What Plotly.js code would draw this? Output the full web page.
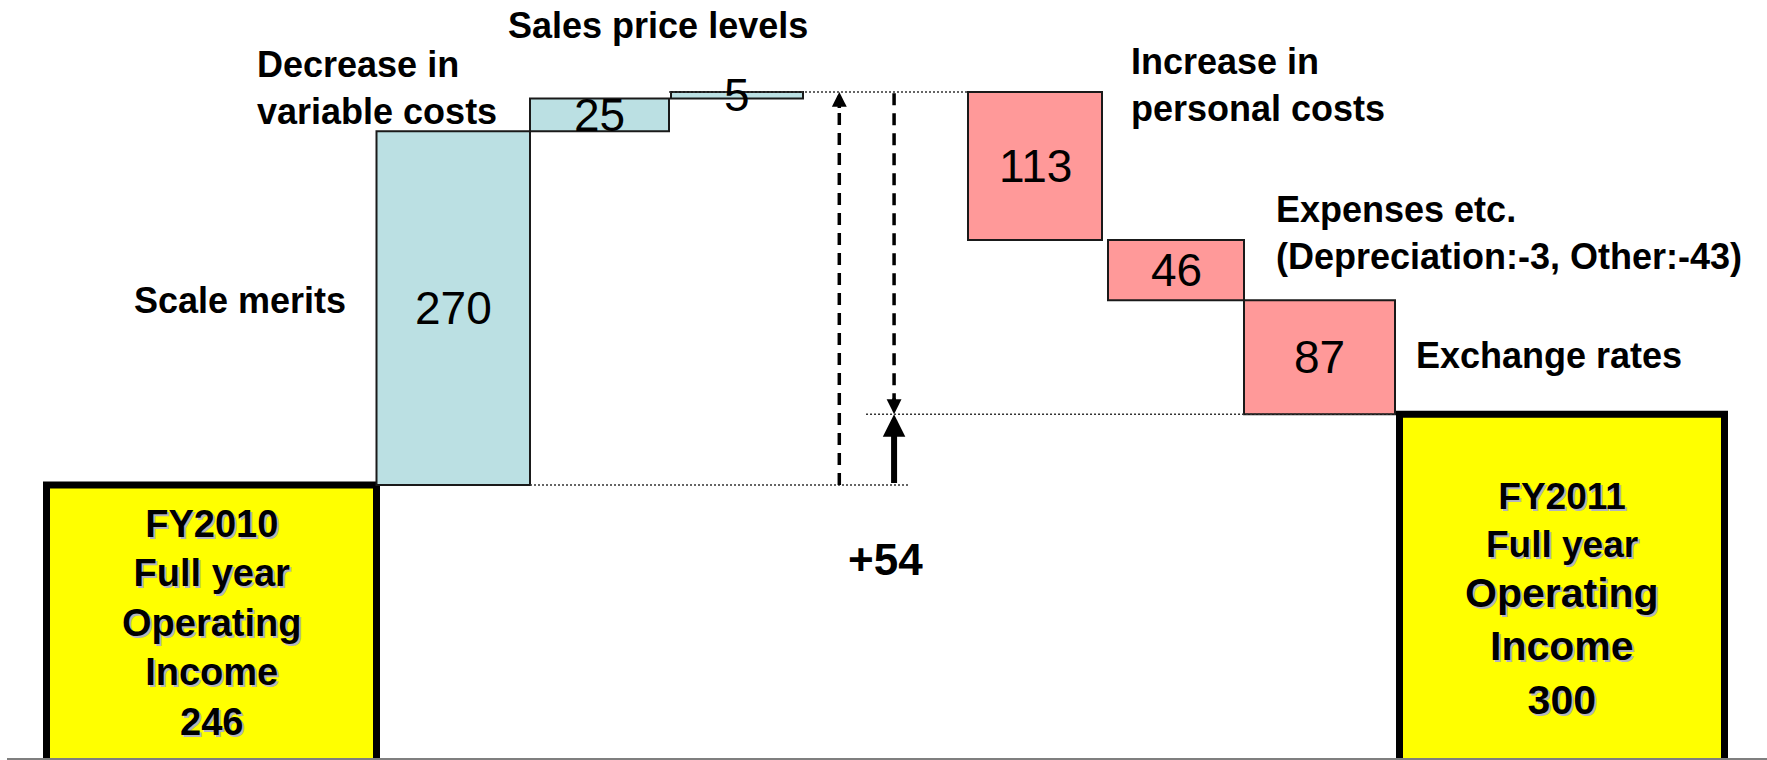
<!DOCTYPE html>
<html>
<head>
<meta charset="utf-8">
<script src="https://cdn.plot.ly/plotly-3.0.1.min.js"></script>
<style>
  html, body { margin: 0; padding: 0; background: #ffffff; }
  #chart { width: 1767px; height: 760px; }
</style>
</head>
<body>
<div id="chart"></div>
<script>
// Operating income bridge: FY2010 full year -> FY2011 full year
const periods = ['FY2010', 'FY2011'];
const startIncome = 246;
const endIncome = 300;
const factorLabels = [
  'Scale merits',
  'Decrease in<br>variable costs',
  'Sales price levels',
  'Increase in<br>personal costs',
  'Expenses etc.',
  'Exchange rates'
];
const factorValues = [270, 25, 5, -113, -46, -87];
const expenseParts = ['Depreciation', 'Other'];
const expensePartValues = [-3, -43];

// ---- layout constants (x-axis units, 1 unit = 100 px) ----
const BAR_W = [3.30, 1.535, 1.39, 1.32, 1.34, 1.36, 1.51, 3.25];
const GAP_BEFORE = [0, 0, 0, 0.02, 1.65, 0.06, 0, 0.045];
const FONT = 'Liberation Sans, Arial, sans-serif';
const BLUE = '#bbe0e3';
const PINK = '#ff9999';
const YELLOW = '#ffff00';

// ---- series assembled from the data ----
const yVals = [startIncome].concat(factorValues, [endIncome]);
const measures = ['absolute'].concat(factorValues.map(() => 'relative'), ['total']);

// bar positions from widths and gaps
const leftEdge = [], rightEdge = [], centers = [];
let cursor = 0;
BAR_W.forEach((w, i) => {
  cursor += GAP_BEFORE[i];
  leftEdge.push(cursor);
  centers.push(cursor + w / 2);
  cursor += w;
  rightEdge.push(cursor);
});

// running totals give each bar's low/high ends
const lo = [], hi = [];
let run = 0;
yVals.forEach((v, i) => {
  if (measures[i] === 'absolute') { run = v; lo.push(0); hi.push(v); }
  else if (measures[i] === 'total') { lo.push(0); hi.push(run); }
  else { lo.push(Math.min(run, run + v)); hi.push(Math.max(run, run + v)); run += v; }
});
const mid = lo.map((l, i) => (l + hi[i]) / 2);
const peak = Math.max.apply(null, hi.slice(1, -1));
const finalTotal = hi[hi.length - 1];

const gapL = rightEdge[3], gapW = leftEdge[4] - rightEdge[3];
const gx = f => gapL + f * gapW;
const upX = gx(0.22), downX = gx(0.552);

const trace = {
  type: 'waterfall',
  x: centers,
  y: yVals,
  measure: measures,
  width: BAR_W,
  increasing: { marker: { color: BLUE, line: { color: '#1a1a1a', width: 2 } } },
  decreasing: { marker: { color: PINK, line: { color: '#1a1a1a', width: 2 } } },
  totals: { marker: { color: YELLOW, line: { color: '#000000', width: 7 } } },
  connector: { visible: false },
  textposition: 'none',
  hoverinfo: 'skip',
  showlegend: false
};

const ann = [];
const labelFont = { family: FONT, size: 36, color: '#000000' };

// values inside the change bars
factorValues.forEach((v, k) => {
  const i = k + 1;
  ann.push({ x: centers[i], y: mid[i], xref: 'x', yref: 'y', text: String(Math.abs(v)),
    showarrow: false, xanchor: 'center', yanchor: 'middle',
    font: { family: FONT, size: 46, color: '#000000' } });
});

// category captions
const expenseText = factorLabels[4] + '<br>(' +
  expenseParts.map((p, j) => p + ':' + expensePartValues[j]).join(', ') + ')';
const cap = (text, x, y, xanchor, xshift, yshift) => ann.push({
  x, y, xref: 'x', yref: 'y', text: '<b>' + text + '</b>', showarrow: false,
  xanchor, yanchor: 'middle', align: 'left', xshift, yshift, font: labelFont });
cap(factorLabels[0], leftEdge[1], mid[1], 'right', -29, 8);
cap(factorLabels[1], leftEdge[2], mid[2], 'right', -31, 27);
cap(factorLabels[2], rightEdge[3], hi[3], 'right', 7, 66);
cap(factorLabels[3], rightEdge[4], hi[4], 'left', 27, 7);
cap(expenseText, rightEdge[5], hi[5], 'left', 30, 7);
cap(factorLabels[5], rightEdge[6], mid[6], 'left', 19, 2);

// text in the start / end boxes
const boxShadow = '2px 2px 0px #b4b4bc';
ann.push({ x: centers[0], y: hi[0], xref: 'x', yref: 'y',
  text: '<b>' + periods[0] + '<br>Full year<br>Operating<br>Income<br>' + startIncome + '</b>',
  showarrow: false, xanchor: 'center', yanchor: 'middle', align: 'center', yshift: -138,
  font: { family: FONT, size: 38, color: '#000000', shadow: boxShadow } });
ann.push({ x: centers[7], y: hi[7], xref: 'x', yref: 'y',
  text: '<b>' + periods[1] + '<br>Full year</b>',
  showarrow: false, xanchor: 'center', yanchor: 'middle', align: 'center', yshift: -106,
  font: { family: FONT, size: 37, color: '#000000', shadow: boxShadow } });
ann.push({ x: centers[7], y: hi[7], xref: 'x', yref: 'y',
  text: '<b>Operating<br>Income<br>' + finalTotal + '</b>',
  showarrow: false, xanchor: 'center', yanchor: 'middle', align: 'center', yshift: -232,
  font: { family: FONT, size: 41, color: '#000000', shadow: boxShadow } });

// net change label
ann.push({ x: gx(0.5), y: startIncome, xref: 'x', yref: 'y',
  text: '<b>+' + (finalTotal - startIncome) + '</b>', showarrow: false,
  xanchor: 'center', yanchor: 'middle', yshift: -75,
  font: { family: FONT, size: 44, color: '#000000' } });

// arrowheads on the dashed guides and the solid net-change arrow
const head = (x, y, ay) => ann.push({ x, y, xref: 'x', yref: 'y', text: ' ', showarrow: true,
  ax: 0, ay, arrowhead: 2, arrowwidth: 3.5, arrowsize: 0.85, arrowcolor: '#000000',
  font: { size: 1 } });
head(upX, peak, 18);
head(downX, finalTotal, -18);
ann.push({ x: downX, y: finalTotal, xref: 'x', yref: 'y', ax: downX, ay: startIncome,
  axref: 'x', ayref: 'y', text: ' ', showarrow: true, arrowhead: 2, arrowwidth: 6,
  arrowsize: 0.75, arrowcolor: '#000000', font: { size: 1 } });

// guide lines
const dotted = { color: '#333333', width: 1.5, dash: '2px,2px' };
const dashed = { color: '#000000', width: 3.5, dash: '12px,8px' };
const shapes = [
  { type: 'line', xref: 'x', yref: 'y', x0: leftEdge[3] - 0.02, x1: leftEdge[4], y0: peak, y1: peak, line: dotted },
  { type: 'line', xref: 'x', yref: 'y', x0: rightEdge[1], x1: gx(0.637), y0: startIncome, y1: startIncome, line: dotted },
  { type: 'line', xref: 'x', yref: 'y', x0: gx(0.382), x1: rightEdge[6], y0: finalTotal, y1: finalTotal, line: dotted },
  { type: 'line', xref: 'x', yref: 'y', x0: upX, x1: upX, y0: startIncome, y1: peak - 6, line: dashed },
  { type: 'line', xref: 'x', yref: 'y', x0: downX, x1: downX, y0: peak - 1, y1: finalTotal + 6, line: dashed }
];

const layout = {
  width: 1767, height: 760,
  margin: { l: 7, r: 0, t: 0, b: 2 },
  paper_bgcolor: '#ffffff', plot_bgcolor: '#ffffff',
  xaxis: { range: [-0.395, 17.205], showgrid: false, zeroline: false, showticklabels: false,
    ticks: '', showline: true, linecolor: '#7f7f7f', linewidth: 2, fixedrange: true },
  yaxis: { range: [37.6, 616.2], showgrid: false, zeroline: false, showticklabels: false,
    ticks: '', showline: false, fixedrange: true },
  annotations: ann,
  shapes: shapes,
  hovermode: false,
  showlegend: false
};

Plotly.newPlot('chart', [trace], layout, { displayModeBar: false, staticPlot: true });
</script>
</body>
</html>
